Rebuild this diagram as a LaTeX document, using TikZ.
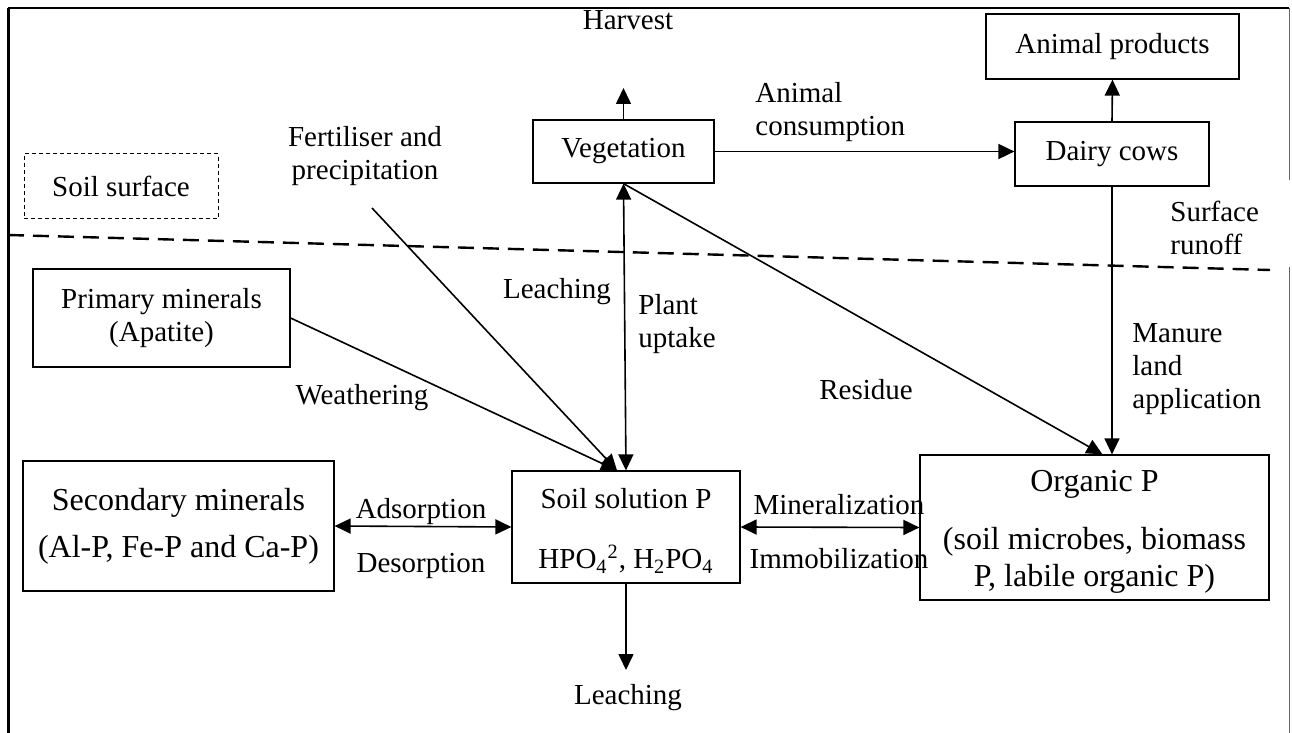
\documentclass[tikz,border=0pt]{standalone}
\usepackage{fontspec}
\setmainfont{Liberation Serif}
\usetikzlibrary{arrows.meta}

\tikzset{
  box/.style={draw, line width=0.6pt, align=center, inner sep=2pt},
  lbl/.style={align=center, inner sep=0pt},
  big/.style={font=\fontsize{16}{18.4}\selectfont},
  arr/.style={line width=0.8pt, -{Triangle[length=8pt,width=7.5pt]}},
  dbl/.style={line width=0.8pt, {Triangle[length=8pt,width=7.5pt]}-{Triangle[length=8pt,width=7.5pt]}},
}

\begin{document}
\begin{tikzpicture}[x=0.5pt, y=-0.5pt, font=\fontsize{14.5}{16.7}\selectfont]
  \useasboundingbox (0,0) rectangle (1292,733);
  % frame
  \draw[line width=1.5pt] (8,733) -- (8,8);
  \draw[line width=1pt] (8,8) -- (1289,8);
  \draw[line width=0.5pt, black!60] (1289,8) -- (1289,180) (1289,267) -- (1289,733);
  % soil surface
  \draw[line width=1.2pt, dash pattern=on 8pt off 4.5pt] (8,235) -- (1270,270);

  % boxes
  \node[box, line width=0.5pt, dash pattern=on 2pt off 1.5pt, minimum width=97pt, minimum height=32.5pt] (surf) at (121,186.5) {Soil surface};
  \node[box, minimum width=126.5pt, minimum height=32.5pt] (prod) at (1112.5,46.5) {Animal products};
  \node[box, minimum width=90.5pt, minimum height=31.5pt] (veg) at (623.5,151.5) {Vegetation};
  \node[box, minimum width=97pt, minimum height=32pt] (cows) at (1112,154) {Dairy cows};
  \node[box, minimum width=128.5pt, minimum height=49pt] (prim) at (161.5,318) {Primary minerals\\(Apatite)};
  \node[box, big, minimum width=155.5pt, minimum height=65pt] (sec) at (178.5,526) {Secondary minerals\\[5pt](Al-P, Fe-P and Ca-P)};
  \node[box, minimum width=114pt, minimum height=56pt] (sol) at (626,527) {\rule{0pt}{14pt}Soil solution P\\[13.3pt]HPO\textsubscript{4}\textsuperscript{2}, H\textsubscript{2}PO\textsubscript{4}};
  \node[box, big, minimum width=174.5pt, minimum height=72.5pt] (org) at (1094.5,527.5) {\rule{0pt}{15pt}Organic P\\[10.6pt](soil microbes, biomass\\P, labile organic P)};

  % labels
  \node[lbl] (harv) at (628,20) {Harvest};
  \node[lbl, align=left, anchor=west] (cons) at (755,112) {Animal\\consumption};
  \node[lbl] (fert) at (365,156) {Fertiliser and\\precipitation};
  \node[lbl, align=left, anchor=west] (runoff) at (1170,228) {Surface\\runoff};
  \node[lbl] (leach) at (557,292) {Leaching};
  \node[lbl, align=left, anchor=west] (uptake) at (638,324) {Plant\\uptake};
  \node[lbl] (weath) at (362,398) {Weathering};
  \node[lbl] (resid) at (866,390) {Residue};
  \node[lbl, align=left, anchor=west] (manure) at (1132,369) {Manure\\land\\application};
  \node[lbl] (ads) at (421,512) {Adsorption};
  \node[lbl] (des) at (421,566) {Desorption};
  \node[lbl] (mine) at (839,505) {Mineralization};
  \node[lbl] (immo) at (839,559) {Immobilization};
  \node[lbl] (leach2) at (628,698) {Leaching};

  \coordinate (hv) at (623.5,88);
  \coordinate (rain) at (372,208);
  \coordinate (down) at (626,670);

  % connectors
  \draw[arr] (veg.north) -- (hv);
  \draw[arr] (cows.north) -- (prod.south);
  \draw[arr] (veg.east) -- (cows.west |- veg.east);
  \draw[arr] (rain) -- ([xshift=-4.5pt]sol.north);
  \draw[arr] (prim.east) -- ([xshift=-4.5pt]sol.north);
  \draw[dbl] (sol.north) -- (veg.south);
  \draw[arr] (veg.south) -- ([xshift=4pt]org.north);
  \draw[arr] (cows.south) -- (cows.south |- org.north);
  \draw[dbl] (sec.east) -- (sol.west);
  \draw[dbl] (sol.east) -- (org.west);
  \draw[arr] (sol.south) -- (down);
\end{tikzpicture}
\end{document}
